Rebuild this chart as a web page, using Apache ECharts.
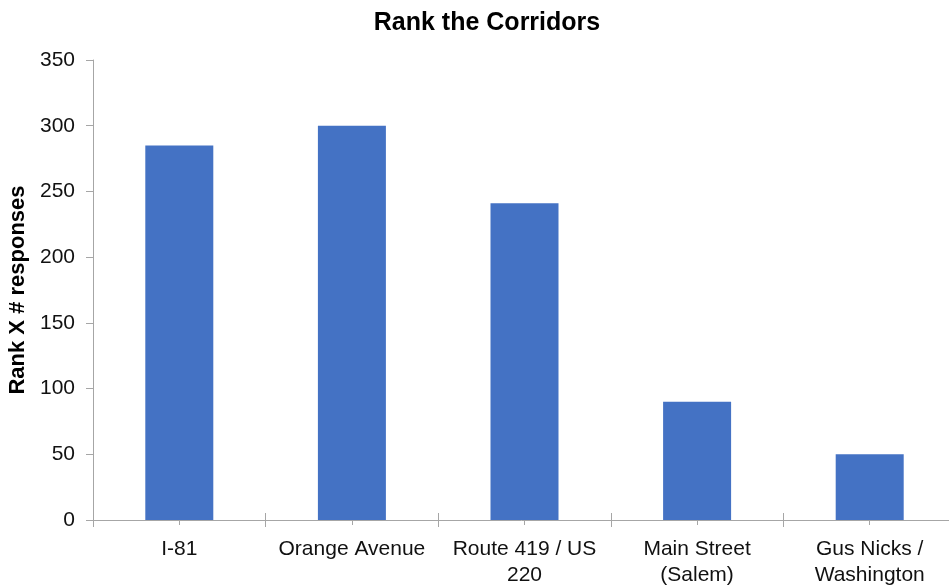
<!DOCTYPE html>
<html>
<head>
<meta charset="utf-8">
<script src="https://cdn.jsdelivr.net/npm/echarts@6/dist/echarts.min.js"></script>
<style>
  html, body { margin: 0; padding: 0; background: #fff; }
  #chart { width: 949px; height: 588px; }
</style>
</head>
<body>
<div id="chart"></div>
<script>
var corridors = ['I-81', 'Orange Avenue', 'Route 419 / US\n220', 'Main Street\n(Salem)', 'Gus Nicks /\nWashington'];
var rankScores = [285, 300, 241, 90, 50];
var yTicks = [0, 50, 100, 150, 200, 250, 300, 350];

var chart = echarts.init(document.getElementById('chart'));

var font = 'Liberation Sans, Arial, sans-serif';
var axisGray = '#a6a6a6';

// second/third axes only draw extra tick marks (Excel style crossing ticks)
function tickAxis(inside, len, align) {
  return {
    type: 'category',
    data: corridors,
    position: 'bottom',
    axisLine: { show: false },
    axisTick: { show: true, inside: inside, length: len, alignWithLabel: align, lineStyle: { color: axisGray } },
    axisLabel: { show: false }
  };
}

var option = {
  animation: false,
  title: {
    text: 'Rank the Corridors',
    left: 482,
    top: 6,
    textAlign: 'center',
    textStyle: { fontFamily: font, fontSize: 25, fontWeight: 'bold', color: '#000' }
  },
  grid: { left: 93, right: -7, top: 60, bottom: 68, containLabel: false, outerBoundsMode: 'none' },
  xAxis: [{
    type: 'category',
    data: corridors,
    axisLine: { lineStyle: { color: axisGray, width: 1 } },
    axisTick: { show: true, length: 7, lineStyle: { color: axisGray } },
    axisLabel: {
      fontFamily: font, fontSize: 21, color: '#111',
      margin: 16, lineHeight: 26, interval: 0
    }
  },
  tickAxis(true, 7, false),
  tickAxis(false, 5, true)
  ],
  yAxis: {
    type: 'value',
    min: 0,
    max: 350,
    interval: 50,
    name: 'Rank X # responses',
    nameLocation: 'middle',
    nameGap: 64,
    nameTextStyle: { fontFamily: font, fontSize: 22, fontWeight: 'bold', color: '#000' },
    axisLine: { show: true, lineStyle: { color: axisGray } },
    axisTick: { show: true, length: 7, lineStyle: { color: axisGray } },
    splitLine: { show: false },
    axisLabel: {
      fontFamily: font, fontSize: 21, color: '#111', margin: 18,
      formatter: function (v) { return yTicks.indexOf(v) >= 0 ? String(v) : ''; }
    }
  },
  series: [{
    type: 'bar',
    data: rankScores,
    barWidth: 68,
    itemStyle: { color: '#4472C4' }
  }]
};

chart.setOption(option);
</script>
</body>
</html>
